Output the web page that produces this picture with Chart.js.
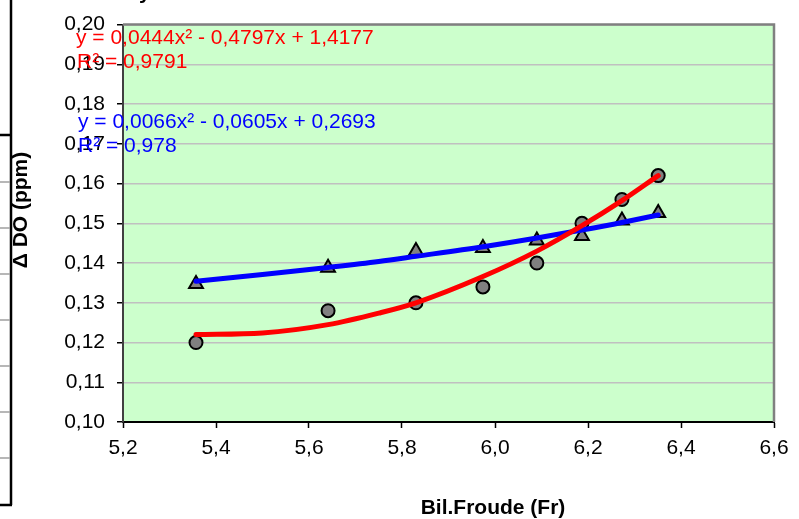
<!DOCTYPE html>
<html>
<head>
<meta charset="utf-8">
<script src="https://cdn.jsdelivr.net/npm/chart.js@4.4.1/dist/chart.umd.min.js"></script>
<style>
  html, body { margin: 0; padding: 0; background: #fff; }
  #wrap { width: 799px; height: 519px; position: relative; }
</style>
</head>
<body>
<div id="wrap"><canvas id="chart"></canvas></div>
<script>
// Froude numbers (x) shared by both series
const froude = [5.357, 5.641, 5.830, 5.974, 6.090, 6.187, 6.273, 6.351];

// measured Δ DO values
const circleValues = [0.120, 0.128, 0.130, 0.134, 0.140, 0.150, 0.156, 0.162];
const triangleValues = [0.1347, 0.1388, 0.143, 0.1438, 0.1457, 0.1468, 0.1507, 0.1526];

// trendlines (a few extra readings where the red one bends)
const trendX = [5.357, 5.50, 5.641, 5.75, 5.830, 5.974, 6.090, 6.187, 6.273, 6.351];
const redTrend = [0.1220, 0.1224, 0.1245, 0.1274, 0.1300, 0.1366, 0.1430, 0.1494, 0.1557, 0.1620];
const blueTrend = [0.1354, 0.1371, 0.1389, 0.1404, 0.1417, 0.1441, 0.1463, 0.1483, 0.1502, 0.1521];

// tick labels
const xTickLabels = ['5,2', '5,4', '5,6', '5,8', '6,0', '6,2', '6,4', '6,6'];
const yTickLabels = ['0,10', '0,11', '0,12', '0,13', '0,14', '0,15', '0,16', '0,17', '0,18', '0,19', '0,20'];

// equation labels
const redLabels = ['y = 0,0444x\u00B2 - 0,4797x + 1,4177', 'R\u00B2 = 0,9791'];
const blueLabels = ['y = 0,0066x\u00B2 - 0,0605x + 0,2693', 'R\u00B2 = 0,978'];

const xTitle = 'Bil.Froude (Fr)';
const yTitle = '\u0394 DO (ppm)';

const FONT = '"Liberation Sans", Arial, sans-serif';
Chart.defaults.font.family = FONT;
Chart.defaults.color = '#000';

const toPoints = (xs, ys) => xs.map((x, i) => ({ x, y: ys[i] }));

// background, frame, labels and the leftover spreadsheet lines
const decorPlugin = {
    id: 'decor',
    beforeDraw(chart) {
        const { ctx, chartArea: a } = chart;
        ctx.save();
        ctx.fillStyle = '#fff';
        ctx.fillRect(0, 0, chart.width, chart.height);
        ctx.fillStyle = '#CCFFCC';
        ctx.fillRect(a.left, a.top, a.right - a.left, a.bottom - a.top);

        // cell borders on the left edge
        ctx.strokeStyle = '#000';
        ctx.lineWidth = 2.5;
        ctx.beginPath();
        ctx.moveTo(11, 0); ctx.lineTo(11, 505);
        ctx.moveTo(0, 505); ctx.lineTo(12, 505);
        ctx.moveTo(0, 135); ctx.lineTo(11, 135);
        ctx.stroke();
        ctx.strokeStyle = '#a0a0a0';
        ctx.lineWidth = 1.5;
        ctx.beginPath();
        [182, 228, 274, 320, 366, 412, 458].forEach(y => {
            ctx.moveTo(0, y); ctx.lineTo(10, y);
        });
        ctx.stroke();

        // bit of a cut-off title
        ctx.fillStyle = '#000';
        ctx.font = 'bold 21px ' + FONT;
        ctx.textAlign = 'left';
        ctx.textBaseline = 'alphabetic';
        ctx.fillText('y', 139, -1);
        ctx.restore();
    },
    beforeDatasetsDraw(chart) {
        const { ctx, chartArea: a } = chart;
        ctx.save();
        ctx.strokeStyle = '#808080';
        ctx.lineWidth = 2.5;
        ctx.beginPath();
        ctx.moveTo(a.left, a.top); ctx.lineTo(a.right, a.top); ctx.lineTo(a.right, a.bottom);
        ctx.stroke();
        ctx.restore();
    },
    afterDraw(chart) {
        const { ctx } = chart;
        ctx.save();
        ctx.font = '21px ' + FONT;
        ctx.textAlign = 'left';
        ctx.textBaseline = 'alphabetic';
        ctx.fillStyle = '#FF0000';
        ctx.fillText(redLabels[0], 76, 44);
        ctx.fillText(redLabels[1], 77, 68);
        ctx.fillStyle = '#0000FF';
        ctx.fillText(blueLabels[0], 78, 128);
        ctx.fillText(blueLabels[1], 78, 152);

        ctx.fillStyle = '#000';
        ctx.font = 'bold 21px ' + FONT;
        ctx.textAlign = 'center';
        ctx.fillText(xTitle, 493, 514);
        ctx.translate(21, 210);
        ctx.rotate(-Math.PI / 2);
        ctx.textBaseline = 'middle';
        ctx.fillText(yTitle, 0, 0);
        ctx.restore();
    }
};

new Chart(document.getElementById('chart'), {
    type: 'scatter',
    data: {
        datasets: [
            {
                label: 'poly circles',
                data: toPoints(trendX, redTrend),
                showLine: true,
                borderColor: '#FF0000',
                borderWidth: 5,
                borderCapStyle: 'round',
                pointRadius: 0,
                cubicInterpolationMode: 'monotone',
                order: 0
            },
            {
                label: 'poly triangles',
                data: toPoints(trendX, blueTrend),
                showLine: true,
                borderColor: '#0000FF',
                borderWidth: 5,
                borderCapStyle: 'round',
                pointRadius: 0,
                cubicInterpolationMode: 'monotone',
                order: 0
            },
            {
                label: 'circles',
                data: toPoints(froude, circleValues),
                pointStyle: 'circle',
                pointRadius: 6.5,
                backgroundColor: '#808080',
                borderColor: '#000',
                borderWidth: 2,
                order: 1
            },
            {
                label: 'triangles',
                data: toPoints(froude, triangleValues),
                pointStyle: 'triangle',
                pointRadius: 8,
                backgroundColor: '#808080',
                borderColor: '#000',
                borderWidth: 2,
                order: 1
            }
        ]
    },
    options: {
        responsive: true,
        maintainAspectRatio: false,
        animation: false,
        layout: { padding: { top: 22, right: 25, left: 0, bottom: 0 } },
        plugins: {
            legend: { display: false },
            tooltip: { enabled: false }
        },
        scales: {
            x: {
                type: 'linear',
                min: 5.2,
                max: 6.6,
                afterFit: (scale) => { scale.height = 97; },
                ticks: {
                    stepSize: 0.2,
                    padding: 8,
                    font: { size: 21 },
                    callback: (value, index) => xTickLabels[index]
                },
                grid: {
                    drawOnChartArea: false,
                    drawTicks: true,
                    tickLength: 6,
                    tickColor: '#000',
                    tickWidth: 1.5
                },
                border: { color: '#000', width: 2 }
            },
            y: {
                min: 0.10,
                max: 0.20,
                afterFit: (scale) => { scale.width = 123; },
                ticks: {
                    stepSize: 0.01,
                    padding: 12,
                    font: { size: 21 },
                    callback: (value, index) => yTickLabels[index]
                },
                grid: {
                    color: '#C0C0C0',
                    lineWidth: 1.5,
                    tickLength: 6,
                    tickColor: '#000',
                    tickWidth: 1.5
                },
                border: { color: '#404040', width: 2 }
            }
        }
    },
    plugins: [decorPlugin]
});
</script>
</body>
</html>
